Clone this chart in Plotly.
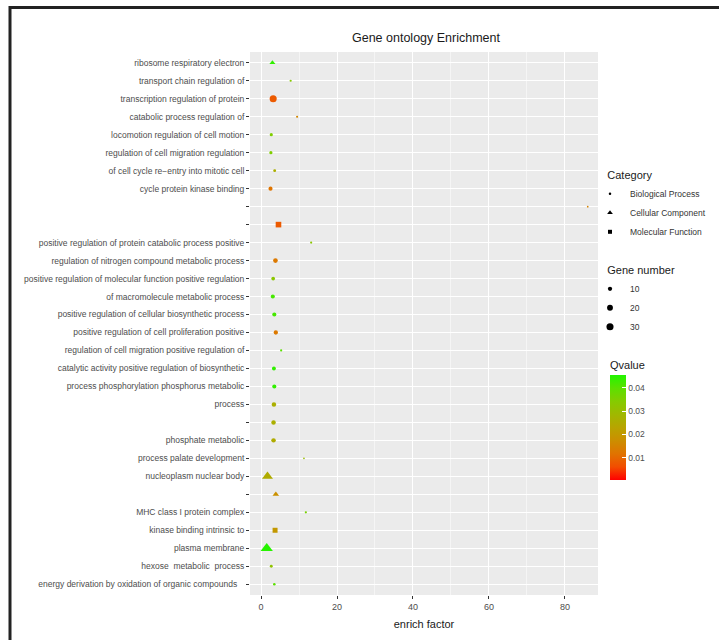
import plotly.graph_objects as go
import numpy as np

# ---------------- data ----------------
terms = [
    "ribosome respiratory electron",
    "transport chain regulation of",
    "transcription regulation of protein",
    "catabolic process regulation of",
    "locomotion regulation of cell motion",
    "regulation of cell migration regulation",
    "of cell cycle re\u2212entry into mitotic cell",
    "cycle protein kinase binding",
    " ",
    "  ",
    "positive regulation of protein catabolic process positive",
    "regulation of nitrogen compound metabolic process",
    "positive regulation of molecular function positive regulation",
    "of macromolecule metabolic process",
    "positive regulation of cellular biosynthetic process",
    "positive regulation of cell proliferation positive",
    "regulation of cell migration positive regulation of",
    "catalytic activity positive regulation of biosynthetic",
    "process phosphorylation phosphorus metabolic",
    "process",
    "   ",
    "phosphate metabolic",
    "process palate development",
    "nucleoplasm nuclear body",
    "    ",
    "MHC class I protein complex",
    "kinase binding intrinsic to",
    "plasma membrane",
    "hexose  metabolic  process",
    "energy derivation by oxidation of organic compounds\u00a0\u00a0\u00a0",
]
enrich_factor = [3.0, 7.8, 3.2, 9.5, 2.7, 2.6, 3.6, 2.5, 86.0, 4.6,
                 13.2, 3.8, 3.2, 3.1, 3.5, 3.9, 5.3, 3.4, 3.5, 3.4,
                 3.3, 3.3, 11.3, 1.7, 3.9, 11.8, 3.7, 1.5, 2.7, 3.5]
category = ["CC", "BP", "BP", "BP", "BP", "BP", "BP", "BP", "BP", "MF",
            "BP", "BP", "BP", "BP", "BP", "BP", "BP", "BP", "BP", "BP",
            "BP", "BP", "BP", "CC", "CC", "BP", "MF", "CC", "BP", "BP"]
gene_number = [8, 2, 30, 2, 5, 5, 4, 9, 1, 18,
               2, 12, 7, 9, 9, 10, 2, 8, 9, 11,
               11, 11, 1, 30, 10, 2, 14, 38, 4, 3]
qvalue = [0.044, 0.034, 0.008, 0.016, 0.035, 0.035, 0.026, 0.012, 0.015, 0.008,
          0.033, 0.013, 0.033, 0.042, 0.042, 0.013, 0.040, 0.044, 0.044, 0.026,
          0.026, 0.025, 0.030, 0.025, 0.018, 0.036, 0.020, 0.045, 0.032, 0.040]

category_names = {"BP": "Biological Process", "CC": "Cellular Component", "MF": "Molecular Function"}
gene_breaks = [10, 20, 30]
q_ticks = [0.01, 0.02, 0.03, 0.04]
x_ticks = [0, 20, 40, 60, 80]

# ---------------- styling ----------------
FONT = "Liberation Sans, Arial, sans-serif"
symbols = {"BP": "circle", "CC": "triangle-up", "MF": "square"}
shape_scale = {"BP": 1.0, "CC": 1.35, "MF": 1.0}


def size_of(g):
    return 0.5 + 1.2 * np.sqrt(g)


colorscale = [
    [0.0, "#FF0000"], [0.125, "#F24D00"], [0.25, "#E07300"], [0.375, "#CC8E00"],
    [0.5, "#B8A400"], [0.625, "#A0B800"], [0.75, "#85CB00"], [0.875, "#5CE000"],
    [1.0, "#22F500"],
]

fig = go.Figure()

for cat in ["BP", "CC", "MF"]:
    idx = [i for i, c in enumerate(category) if c == cat]
    fig.add_trace(go.Scatter(
        x=[enrich_factor[i] for i in idx],
        y=[terms[i] for i in idx],
        mode="markers",
        marker=dict(
            symbol=symbols[cat],
            size=[size_of(gene_number[i]) * shape_scale[cat] for i in idx],
            color=[qvalue[i] for i in idx],
            coloraxis="coloraxis",
            line=dict(width=0),
            opacity=1,
        ),
        showlegend=False,
        hoverinfo="skip",
    ))

# Category legend (black symbols)
cat_leg_size = {"BP": 2.5, "CC": 5, "MF": 4}
for cat in ["BP", "CC", "MF"]:
    fig.add_trace(go.Scatter(
        x=[None], y=[None], mode="markers",
        marker=dict(symbol=symbols[cat], size=cat_leg_size[cat], color="black"),
        name=category_names[cat], legend="legend", showlegend=True,
    ))

# Gene number legend
for g in gene_breaks:
    fig.add_trace(go.Scatter(
        x=[None], y=[None], mode="markers",
        marker=dict(symbol="circle", size=size_of(g), color="black"),
        name=str(g), legend="legend2", showlegend=True,
    ))

W, H = 719, 640
L, R, T, B = 250, 121, 52, 45
pw, ph = W - L - R, H - T - B


def px_x(p):
    return (p - L) / pw


def px_y(p):
    return (H - B - p) / ph


NB = "\u00a0"

fig.update_layout(
    width=W, height=H,
    margin=dict(l=L, r=R, t=T, b=B, autoexpand=False),
    paper_bgcolor="white",
    plot_bgcolor="#EBEBEB",
    font=dict(family=FONT, size=8.5, color="#4D4D4D"),
    title=dict(text="Gene ontology Enrichment", x=px_x(426) * pw / W + L / W, xanchor="center",
               xref="container", y=1 - 38 / H, yref="container", yanchor="middle",
               font=dict(family=FONT, size=12.5, color="#1A1A1A")),
    xaxis=dict(
        range=[-2.9, 88.7], tickvals=x_ticks, ticks="outside", ticklen=3,
        tickcolor="#333333", showline=False, zeroline=False,
        showgrid=True, gridcolor="white", gridwidth=1,
        minor=dict(dtick=10, tick0=10, showgrid=True, gridcolor="#F5F5F5", gridwidth=0.5, ticks=""),
        tickfont=dict(family=FONT, size=9, color="#4D4D4D"),
        title=dict(text="enrich factor", font=dict(family=FONT, size=11, color="#1A1A1A"), standoff=9),
    ),
    yaxis=dict(
        type="category", categoryorder="array", categoryarray=terms,
        range=[len(terms) - 1 + 0.6, -0.6],
        ticks="outside", ticklen=3, tickcolor="#333333",
        showgrid=True, gridcolor="white", gridwidth=1, zeroline=False,
        tickfont=dict(family=FONT, size=8.5, color="#4D4D4D"),
    ),
    coloraxis=dict(
        colorscale=colorscale, cmin=0.0005, cmax=0.0455,
        colorbar=dict(
            title=dict(text="Qvalue", side="top", font=dict(family=FONT, size=11, color="#1A1A1A")),
            x=px_x(610), xanchor="left", y=px_y(480), yanchor="bottom",
            len=122, lenmode="pixels", thickness=16, thicknessmode="pixels",
            tickvals=q_ticks, ticks="inside", ticklen=4, tickcolor="white",
            outlinewidth=0, xpad=0, ypad=0,
            tickfont=dict(family=FONT, size=8.5, color="#4D4D4D"),
        ),
    ),
    legend=dict(
        title=dict(text=NB * 5 + "Category", font=dict(family=FONT, size=11, color="#1A1A1A")),
        x=px_x(590), xanchor="left", y=px_y(165), yanchor="top",
        font=dict(family=FONT, size=8.5, color="#333333"),
        bgcolor="rgba(0,0,0,0)", itemwidth=30, tracegroupgap=0,
    ),
    legend2=dict(
        title=dict(text=NB * 5 + "Gene number", font=dict(family=FONT, size=11, color="#1A1A1A")),
        x=px_x(590), xanchor="left", y=px_y(260), yanchor="top",
        font=dict(family=FONT, size=8.5, color="#333333"),
        bgcolor="rgba(0,0,0,0)", itemwidth=30, tracegroupgap=0,
    ),
    shapes=[
        dict(type="line", xref="paper", yref="paper", x0=px_x(9), x1=px_x(719),
             y0=px_y(7.5), y1=px_y(7.5), line=dict(color="#222222", width=3)),
        dict(type="line", xref="paper", yref="paper", x0=px_x(10), x1=px_x(10),
             y0=px_y(6), y1=px_y(640), line=dict(color="#222222", width=3)),
    ],
)

fig.write_html("out.html", config={"displayModeBar": False},
               post_script="document.body.style.margin='0';")
